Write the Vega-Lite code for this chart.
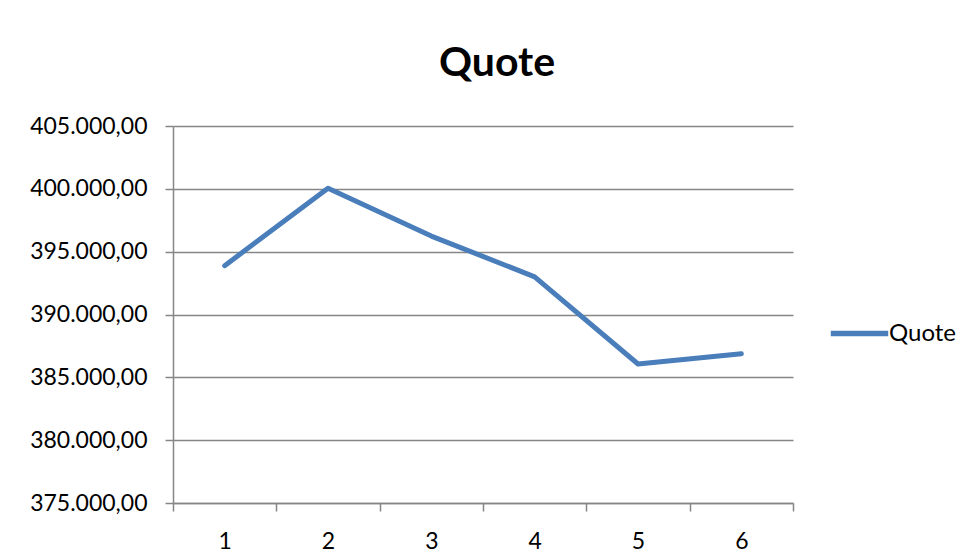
{
  "$schema": "https://vega.github.io/schema/vega-lite/v6.json",
  "width": 620,
  "height": 377,
  "autosize": "none",
  "padding": {"left": 173, "top": 126, "right": 180, "bottom": 57},
  "background": "white",
  "config": {
    "locale": {"number": {"decimal": ",", "thousands": ".", "grouping": [3], "currency": ["", " €"]}},
    "view": {"stroke": null},
    "font": "Lato"
  },
  "title": {
    "text": "Quote",
    "fontSize": 41,
    "fontWeight": "bold",
    "font": "Lato",
    "color": "black",
    "anchor": "middle",
    "dx": 14,
    "offset": -2,
    "baseline": "alphabetic"
  },
  "data": {
    "values": [
      {"x": "1", "y": 393885, "series": "Quote"},
      {"x": "2", "y": 400050, "series": "Quote"},
      {"x": "3", "y": 396240, "series": "Quote"},
      {"x": "4", "y": 393000, "series": "Quote"},
      {"x": "5", "y": 386060, "series": "Quote"},
      {"x": "6", "y": 386880, "series": "Quote"}
    ]
  },
  "mark": {"type": "line", "strokeWidth": 5, "strokeCap": "round", "strokeJoin": "round"},
  "encoding": {
    "x": {
      "field": "x",
      "type": "ordinal",
      "bandPosition": 0.5,
      "scale": {"type": "band", "paddingInner": 0, "paddingOuter": 0},
      "axis": {
        "title": null,
        "labelAngle": 0,
        "tickBand": "extent",
        "domainColor": "#868686",
        "domainWidth": 1.5,
        "tickColor": "#868686",
        "tickWidth": 1.5,
        "tickSize": 8,
        "labelFontSize": 23,
        "labelFont": "Lato",
        "labelColor": "black",
        "labelPadding": 19,
        "grid": false
      }
    },
    "y": {
      "field": "y",
      "type": "quantitative",
      "scale": {"domain": [375000, 405000], "nice": false, "zero": false},
      "axis": {
        "title": null,
        "values": [375000, 380000, 385000, 390000, 395000, 400000, 405000],
        "format": ",.2f",
        "grid": true,
        "gridColor": "#868686",
        "gridWidth": 1.5,
        "domainColor": "#868686",
        "domainWidth": 1.5,
        "tickColor": "#868686",
        "tickWidth": 1.5,
        "tickSize": 8,
        "labelFontSize": 23,
        "labelFont": "Lato",
        "labelColor": "black",
        "labelPadding": 18
      }
    },
    "color": {
      "field": "series",
      "type": "nominal",
      "scale": {"range": ["#4a7ebb"]},
      "legend": {
        "title": null,
        "orient": "none",
        "legendX": 655,
        "legendY": 176,
        "symbolType": "stroke",
        "symbolSize": 3300,
        "symbolStrokeWidth": 5.5,
        "labelFontSize": 24,
        "labelFont": "Lato",
        "labelColor": "black",
        "labelOffset": -2
      }
    }
  }
}
